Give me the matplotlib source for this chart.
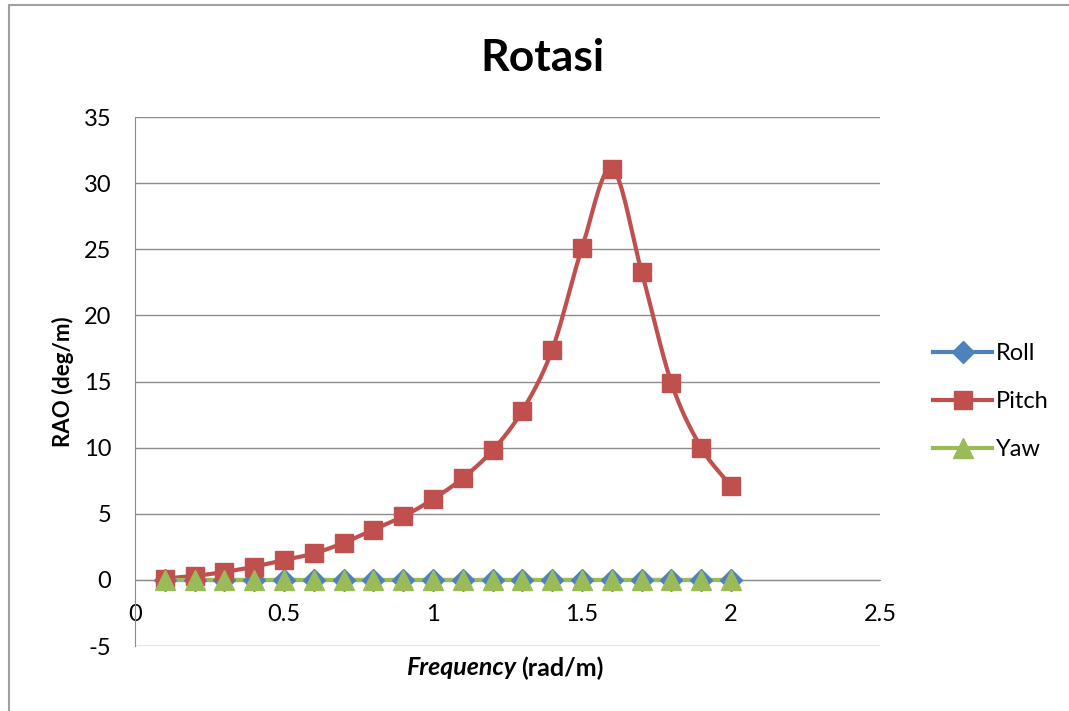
import numpy as np
import matplotlib.pyplot as plt
from matplotlib.patches import Rectangle

plt.rcParams['font.family'] = ['Lato', 'DejaVu Sans']
plt.rcParams['axes.unicode_minus'] = False

freq = [0.1, 0.2, 0.3, 0.4, 0.5, 0.6, 0.7, 0.8, 0.9, 1.0,
        1.1, 1.2, 1.3, 1.4, 1.5, 1.6, 1.7, 1.8, 1.9, 2.0]
roll = [0.0] * 20
pitch = [0.1, 0.3, 0.6, 1.0, 1.5, 2.0, 2.8, 3.8, 4.8, 6.1,
         7.7, 9.8, 12.8, 17.4, 25.1, 31.1, 23.3, 14.9, 10.0, 7.1]
yaw = [0.0] * 20


def smooth(x, y, n=20):
    # catmull-rom curve through the points, like excel's smoothed line
    x = np.asarray(x, float)
    y = np.asarray(y, float)
    px = np.concatenate([[2 * x[0] - x[1]], x, [2 * x[-1] - x[-2]]])
    py = np.concatenate([[2 * y[0] - y[1]], y, [2 * y[-1] - y[-2]]])
    xs, ys = [], []
    t = np.linspace(0, 1, n, endpoint=False)
    for i in range(1, len(px) - 2):
        for p, out in ((px, xs), (py, ys)):
            p0, p1, p2, p3 = p[i - 1], p[i], p[i + 1], p[i + 2]
            out.extend(0.5 * (2 * p1 + (-p0 + p2) * t
                              + (2 * p0 - 5 * p1 + 4 * p2 - p3) * t ** 2
                              + (-p0 + 3 * p1 - 3 * p2 + p3) * t ** 3))
    xs.append(x[-1])
    ys.append(y[-1])
    return xs, ys


fig = plt.figure(figsize=(10.69, 7.11), dpi=100)
ax = fig.add_axes([0.1263, 0.0914, 0.8232 - 0.1263, 0.8354 - 0.0914])

fig.patches.append(Rectangle((0.0084, -0.05), 1.1, 0.993 + 0.05, transform=fig.transFigure,
                             fill=False, edgecolor='#a0a0a0', linewidth=1.5))

series = [
    (roll, 'Roll', '#4F81BD', 'D', 11),
    (pitch, 'Pitch', '#C0504D', 's', 13),
    (yaw, 'Yaw', '#9BBB59', '^', 14),
]
for vals, name, col, mk, ms in series:
    sx, sy = smooth(freq, vals)
    ax.plot(sx, sy, color=col, lw=3, zorder=3)
    ax.plot(freq, vals, linestyle='none', marker=mk, markersize=ms, color=col, zorder=4)
    ax.plot([], [], color=col, lw=3, marker=mk, markersize=ms, label=name)

ax.set_xlim(0, 2.5)
ax.set_ylim(-5, 35)
ax.set_xticks([0, 0.5, 1, 1.5, 2, 2.5])
ax.set_xticklabels(['0', '0.5', '1', '1.5', '2', '2.5'])
ax.set_yticks(range(-5, 36, 5))
ax.yaxis.grid(True, color='#8c8c8c', lw=1)
ax.set_axisbelow(True)
for s in ['top', 'right']:
    ax.spines[s].set_visible(False)
ax.spines['bottom'].set_position(('data', 0))
ax.spines['bottom'].set_color('#8c8c8c')
ax.spines['left'].set_color('#8c8c8c')
ax.tick_params(axis='x', length=0, pad=17, labelsize=17)
ax.tick_params(axis='y', length=0, pad=17, labelsize=17)

ax.set_ylabel('RAO (deg/m)', fontsize=16, fontweight='bold', labelpad=7)
fig.text(0.4827, 0.0605, 'Frequency', ha='right', va='center', fontsize=18,
         fontweight='bold', style='italic')
fig.text(0.4874, 0.0605, '(rad/m)', ha='left', va='center', fontsize=18, fontweight='bold')
fig.text(0.507, 0.918, 'Rotasi', ha='center', va='center', fontsize=32, fontweight='bold')

fig.legend(loc='center left', bbox_to_anchor=(0.853, 0.435), frameon=False,
           fontsize=17, labelspacing=1.15, handlelength=2.5, handletextpad=0.15)

fig.savefig('out.png', dpi=100)
